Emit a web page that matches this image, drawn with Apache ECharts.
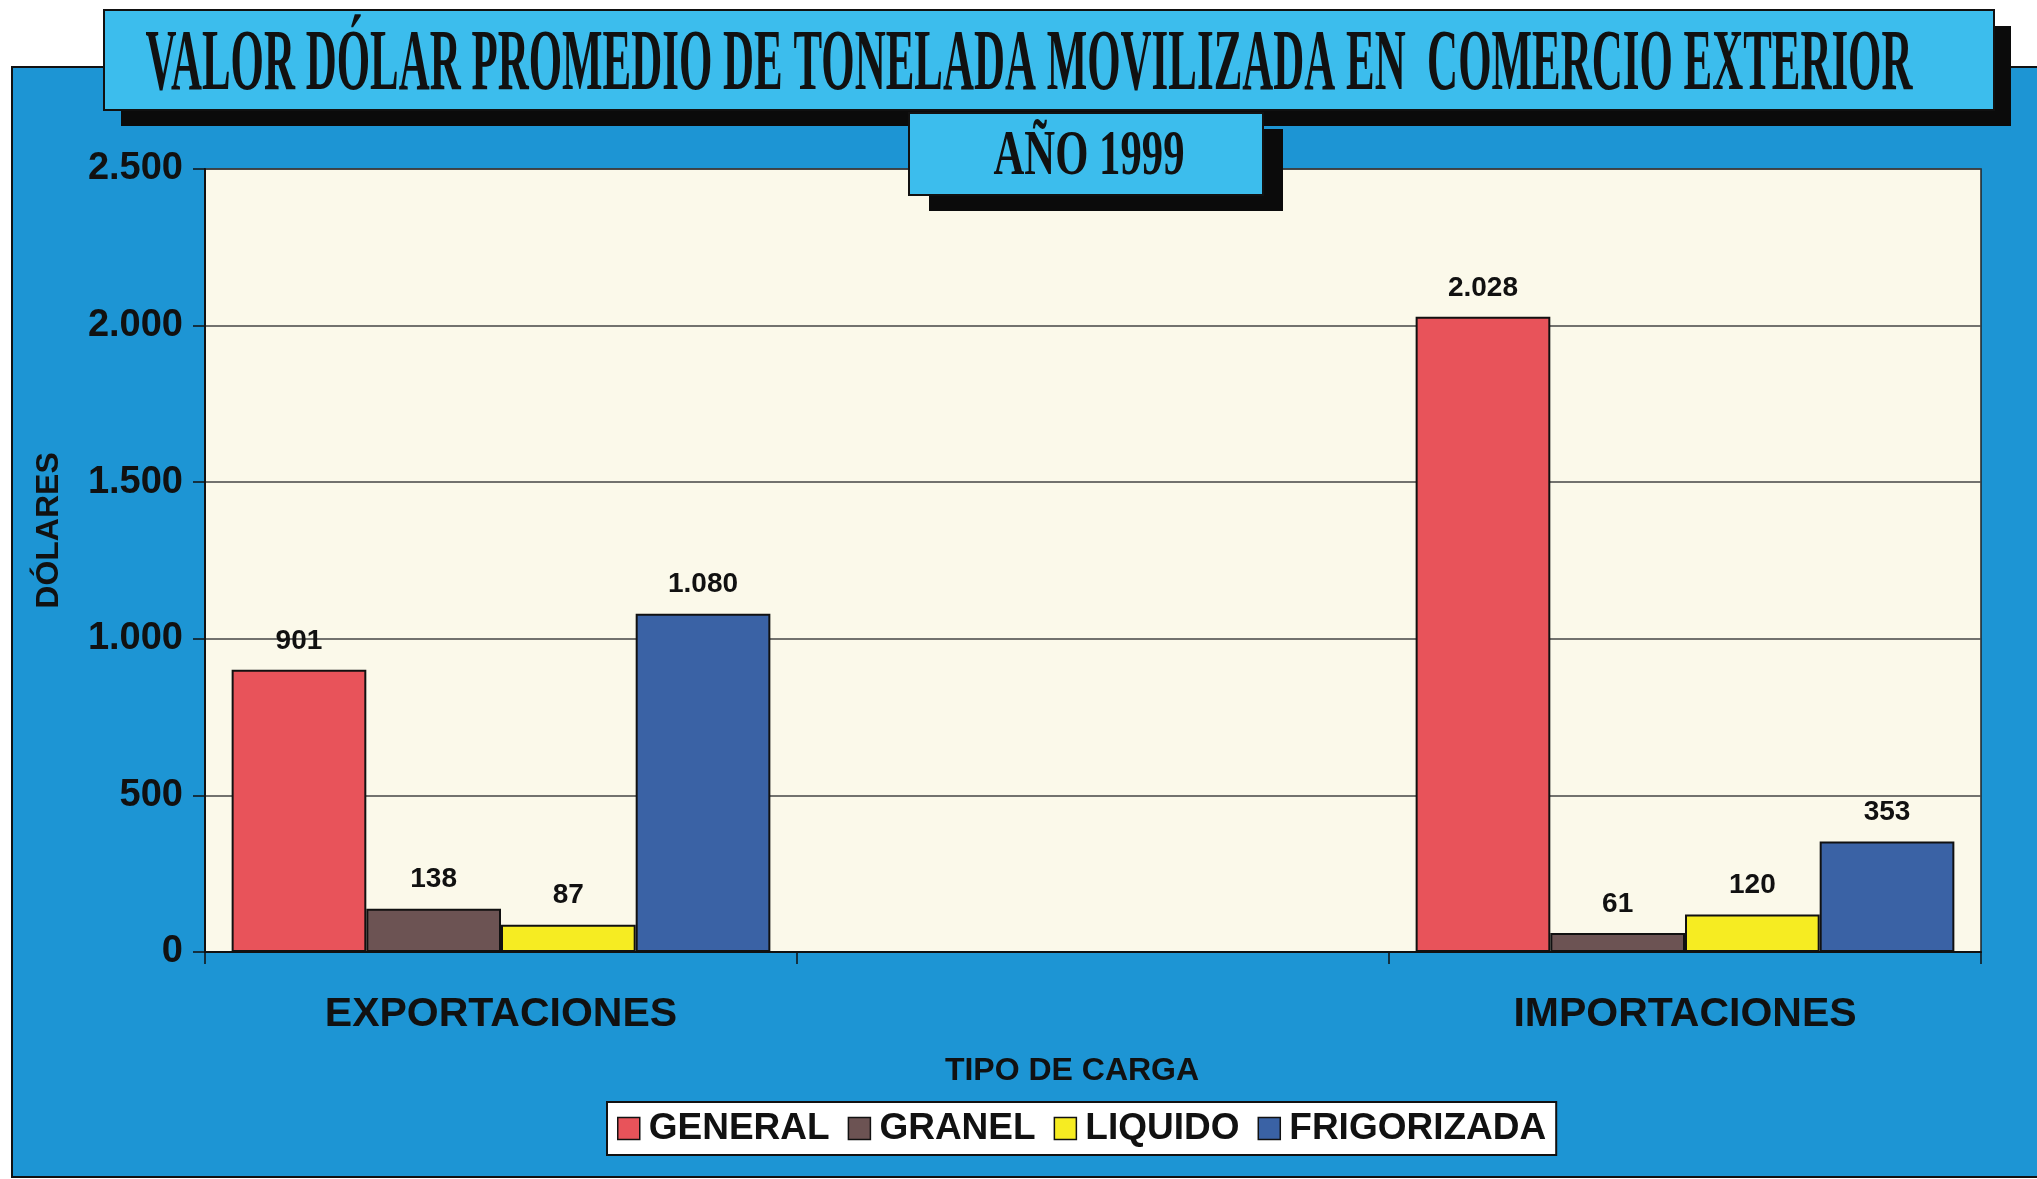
<!DOCTYPE html>
<html>
<head>
<meta charset="utf-8">
<script src="https://cdn.jsdelivr.net/npm/echarts@6/dist/echarts.min.js"></script>
<style>
html, body { margin: 0; padding: 0; background: #fff; }
#chart { width: 2037px; height: 1179px; }
</style>
</head>
<body>
<div id="chart"></div>
<script>
/* datos del grafico */
var categorias = ['EXPORTACIONES', '', 'IMPORTACIONES'];
var tipos = ['GENERAL', 'GRANEL', 'LIQUIDO', 'FRIGORIZADA'];
var general = [901, null, 2028];
var granel = [138, null, 61];
var liquido = [87, null, 120];
var frigorizada = [1080, null, 353];
var colores = ['#E8535A', '#6C5353', '#F6EC22', '#3A62A5'];

var titulo = 'VALOR DÓLAR PROMEDIO DE TONELADA MOVILIZADA EN  COMERCIO EXTERIOR';
var subtitulo = 'AÑO 1999';

var chart = echarts.init(document.getElementById('chart'));

// numero con punto de miles
function miles(v) {
  return String(v).replace(/\B(?=(\d{3})+(?!\d))/g, '.');
}

// escala horizontal para simular la fuente condensada
function ajustar(text, font, ancho) {
  var ctx = document.createElement('canvas').getContext('2d');
  ctx.font = font;
  return ancho / ctx.measureText(text).width;
}

var fontTitulo = 'bold 86px "Liberation Serif"';
var fontSub = 'bold 64px "Liberation Serif"';

var labelBarra = {
  show: true,
  position: 'top',
  distance: 15,
  color: '#111',
  fontFamily: 'Liberation Sans',
  fontWeight: 'bold',
  fontSize: 28,
  formatter: function(p) { return miles(p.value); }
};

var datos = [general, granel, liquido, frigorizada];
var series = [];
for (var i = 0; i < tipos.length; i++) {
  series.push({
    name: tipos[i],
    type: 'bar',
    data: datos[i],
    barGap: '0%',
    barCategoryGap: '9%',
    itemStyle: { color: colores[i], borderColor: '#111', borderWidth: 2 },
    label: labelBarra,
    animation: false
  });
}

var option = {
  backgroundColor: '#ffffff',
  color: colores,
  graphic: [
    { type: 'rect', z: -10, shape: { x: 12, y: 67, width: 2040, height: 1110 },
      style: { fill: '#1D95D4', stroke: '#111', lineWidth: 2 } },
    // caja del titulo
    { type: 'rect', z: 100, shape: { x: 121, y: 26, width: 1890, height: 100 }, style: { fill: '#0b0b0b' } },
    { type: 'rect', z: 101, shape: { x: 104, y: 10, width: 1890, height: 100 },
      style: { fill: '#3CBDED', stroke: '#111', lineWidth: 2 } },
    { type: 'text', z: 102, x: 1029, y: 67, scaleX: ajustar(titulo, fontTitulo, 1767),
      style: { text: titulo, font: fontTitulo, fill: '#111', align: 'center', verticalAlign: 'middle' } },
    // caja del año
    { type: 'rect', z: 103, shape: { x: 929, y: 129, width: 354, height: 82 }, style: { fill: '#0b0b0b' } },
    { type: 'rect', z: 104, shape: { x: 909, y: 113, width: 354, height: 82 },
      style: { fill: '#3CBDED', stroke: '#111', lineWidth: 2 } },
    { type: 'text', z: 105, x: 1089, y: 157, scaleX: ajustar(subtitulo, fontSub, 191),
      style: { text: subtitulo, font: fontSub, fill: '#111', align: 'center', verticalAlign: 'middle' } }
  ],
  legend: {
    data: tipos,
    left: 607,
    top: 1102,
    orient: 'horizontal',
    icon: 'rect',
    itemWidth: 22,
    itemHeight: 22,
    itemGap: 18,
    padding: [8, 10],
    backgroundColor: '#ffffff',
    borderColor: '#111',
    borderWidth: 2,
    borderRadius: 0,
    itemStyle: { borderColor: '#111', borderWidth: 1.5 },
    textStyle: { color: '#111', fontFamily: 'Liberation Sans', fontWeight: 'bold', fontSize: 37, padding: [0, 0, 0, 4] }
  },
  grid: {
    left: 205,
    right: 56,
    top: 169,
    bottom: 227,
    show: true,
    backgroundColor: '#FBF9EA',
    borderColor: '#222',
    borderWidth: 1.5
  },
  xAxis: {
    type: 'category',
    data: categorias,
    name: 'TIPO DE CARGA',
    nameLocation: 'middle',
    nameGap: 103,
    nameTextStyle: { color: '#111', fontFamily: 'Liberation Sans', fontWeight: 'bold', fontSize: 32, padding: [0, 42, 0, 0] },
    axisLine: { lineStyle: { color: '#111', width: 2 } },
    axisTick: { show: true, length: 12, lineStyle: { color: '#111', width: 1.5 } },
    axisLabel: { color: '#111', fontFamily: 'Liberation Sans', fontWeight: 'bold', fontSize: 41, margin: 42 }
  },
  yAxis: {
    type: 'value',
    min: 0,
    max: 2500,
    interval: 500,
    name: 'DÓLARES',
    nameLocation: 'middle',
    nameGap: 140,
    nameTextStyle: { color: '#111', fontFamily: 'Liberation Sans', fontWeight: 'bold', fontSize: 32, padding: [0, 0, 0, 60] },
    axisLine: { show: true, lineStyle: { color: '#111', width: 2 } },
    axisTick: { show: true, length: 12, lineStyle: { color: '#111', width: 1.5 } },
    splitLine: { lineStyle: { color: '#444', width: 1.5 } },
    axisLabel: { color: '#111', fontFamily: 'Liberation Sans', fontWeight: 'bold', fontSize: 38, margin: 22, formatter: miles }
  },
  series: series
};

chart.setOption(option);
</script>
</body>
</html>
